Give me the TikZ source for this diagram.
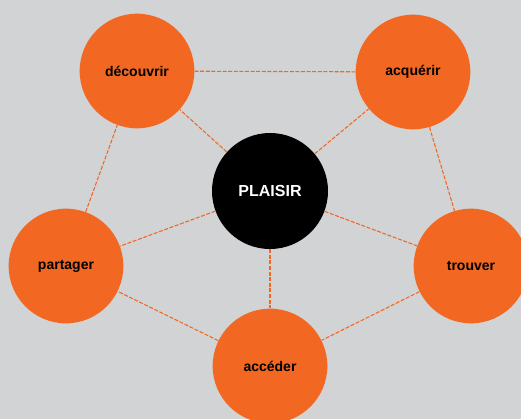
\documentclass[tikz,border=0pt]{standalone}
\usepackage{fontspec}
\setmainfont{Liberation Sans}
\usetikzlibrary{shapes.geometric}
\definecolor{orng}{RGB}{242,103,34}
\definecolor{bggrey}{RGB}{210,211,213}

\begin{document}
\begin{tikzpicture}[x=0.75pt,y=0.75pt,yscale=-1,xscale=1,
  petal/.style={circle,fill=orng,minimum size=86pt,inner sep=0pt,font=\bfseries\fontsize{10.5}{12}\selectfont},
  core/.style={circle,fill=black,text=white,minimum size=87pt,inner sep=0pt,font=\bfseries\fontsize{12}{14}\selectfont},
  link/.style={draw=orng,line width=0.8pt,dash pattern=on 3pt off 1.2pt}]
%set diagram left start at 0, and has height of 419
\fill [bggrey] (0,0) rectangle (521,419);
\useasboundingbox (0,0) rectangle (521,419);

% Core
\node [core] (plaisir) at (270,191) {PLAISIR};
% Petals
\node [petal] (decouvrir) at (137,71) {découvrir};
\node [petal] (acquerir) at (413,72) {acquérir};
\node [petal] (partager) at (66,266) {partager};
\node [petal] (trouver) at (471,266) {trouver};
\node [petal] (acceder) at (270,366) {accéder};

% Ring
\draw [link] (decouvrir) -- (acquerir);
\draw [link] (acquerir) -- (trouver);
\draw [link] (trouver) -- (acceder);
\draw [link] (acceder) -- (partager);
\draw [link] (partager) -- (decouvrir);
% Spokes
\draw [link] (plaisir) -- (decouvrir);
\draw [link] (plaisir) -- (acquerir);
\draw [link] (plaisir) -- (trouver);
\draw [link] (plaisir) -- (acceder);
\draw [link] (plaisir) -- (partager);

\end{tikzpicture}
\end{document}
